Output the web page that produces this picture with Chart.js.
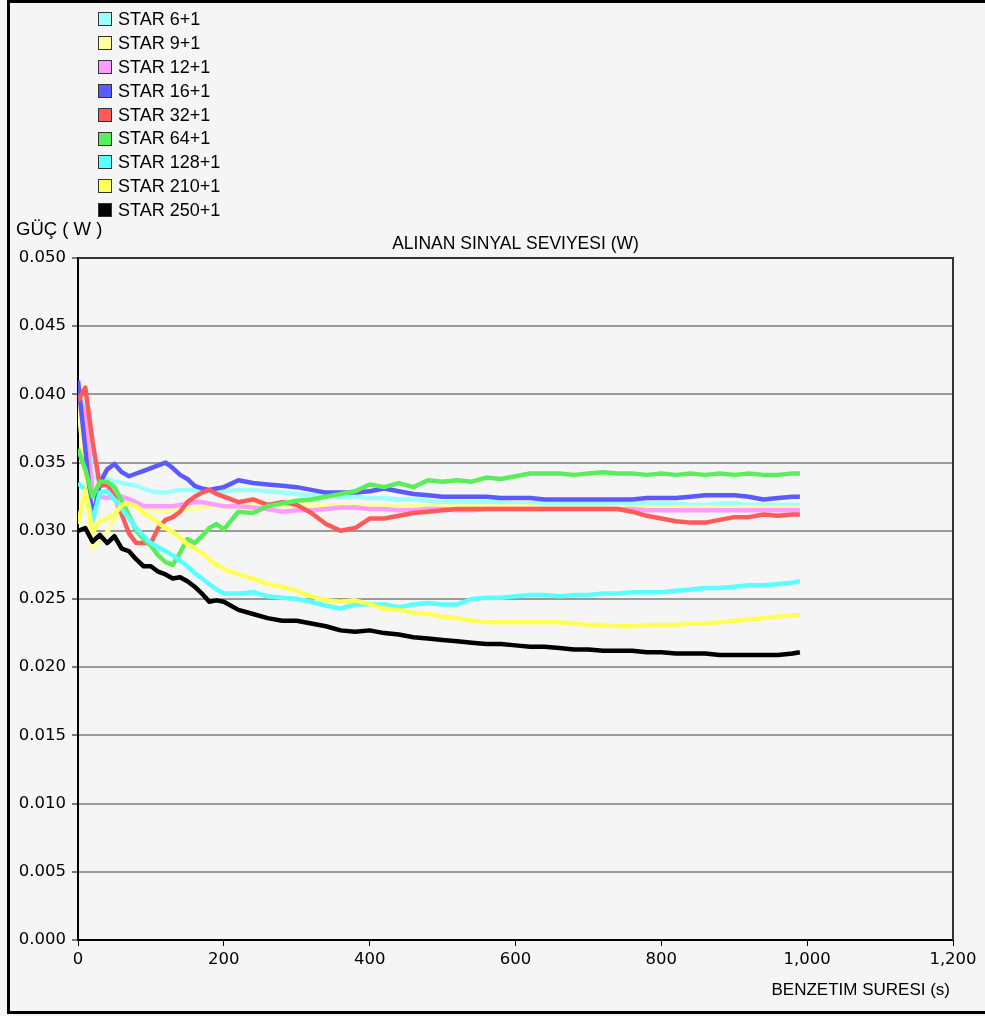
<!DOCTYPE html>
<html><head><meta charset="utf-8">
<script src="https://cdn.jsdelivr.net/npm/chart.js@4.4.1/dist/chart.umd.min.js"></script>
<style>html,body{margin:0;padding:0;background:#f5f5f5;}#wrap{width:985px;height:1016px;position:relative;}canvas{display:block;}</style>
</head><body><div id="wrap"><canvas id="c" width="985" height="1016"></canvas></div>
<script>
const times = [0,10,20,30,40,50,60,70,80,90,100,110,120,130,140,150,160,170,180,190,200,220,240,260,280,300,320,340,360,380,400,420,440,460,480,500,520,540,560,580,600,620,640,660,680,700,720,740,760,780,800,820,840,860,880,900,920,940,960,980,990];

const labels = ['STAR 6+1','STAR 9+1','STAR 12+1','STAR 16+1','STAR 32+1','STAR 64+1','STAR 128+1','STAR 210+1','STAR 250+1'];

const star6 = [0.0406,0.0393,0.0338,0.0341,0.0338,0.0336,0.0335,0.0334,0.0333,0.0331,0.0329,0.0328,0.0328,0.0329,0.0330,0.0330,0.0330,0.0329,0.0328,0.0329,0.0329,
0.0330,0.0330,0.0329,0.0328,0.0327,0.0326,0.0326,0.0325,0.0325,0.0324,0.0324,0.0323,0.0323,0.0322,0.0321,0.0321,0.0321,0.0321,0.0321,0.0320,0.0320,0.0320,0.0320,0.0320,0.0320,0.0320,0.0320,0.0320,0.0320,0.0320,0.0320,0.0319,0.0319,0.0320,0.0320,0.0319,0.0319,0.0319,0.0319,0.0319];

const star9 = [0.0395,0.0340,0.0287,0.0292,0.0299,0.0309,0.0317,0.0319,0.0318,0.0317,0.0316,0.0314,0.0314,0.0315,0.0315,0.0316,0.0316,0.0317,0.0318,0.0318,0.0317,
0.0318,0.0319,0.0319,0.0319,0.0319,0.0319,0.0318,0.0319,0.0319,0.0318,0.0318,0.0318,0.0318,0.0318,0.0318,0.0318,0.0318,0.0318,0.0318,0.0318,0.0318,0.0317,0.0317,0.0317,0.0317,0.0317,0.0317,0.0317,0.0317,0.0317,0.0317,0.0317,0.0317,0.0317,0.0317,0.0317,0.0317,0.0317,0.0317,0.0317];

const star12 = [0.0400,0.0385,0.0328,0.0325,0.0324,0.0325,0.0325,0.0323,0.0321,0.0318,0.0318,0.0318,0.0318,0.0318,0.0319,0.0320,0.0321,0.0321,0.0320,0.0319,0.0318,
0.0318,0.0317,0.0316,0.0314,0.0315,0.0315,0.0316,0.0317,0.0317,0.0316,0.0316,0.0315,0.0315,0.0316,0.0316,0.0315,0.0315,0.0316,0.0316,0.0316,0.0316,0.0316,0.0316,0.0316,0.0316,0.0316,0.0316,0.0316,0.0315,0.0315,0.0315,0.0315,0.0315,0.0315,0.0315,0.0315,0.0315,0.0315,0.0315,0.0315];

const star16 = [0.0410,0.0360,0.0308,0.0335,0.0345,0.0349,0.0343,0.0340,0.0342,0.0344,0.0346,0.0348,0.0350,0.0346,0.0341,0.0338,0.0333,0.0331,0.0330,0.0331,0.0332,
0.0337,0.0335,0.0334,0.0333,0.0332,0.0330,0.0328,0.0328,0.0328,0.0329,0.0331,0.0329,0.0327,0.0326,0.0325,0.0325,0.0325,0.0325,0.0324,0.0324,0.0324,0.0323,0.0323,0.0323,0.0323,0.0323,0.0323,0.0323,0.0324,0.0324,0.0324,0.0325,0.0326,0.0326,0.0326,0.0325,0.0323,0.0324,0.0325,0.0325];

const star32 = [0.0395,0.0405,0.0365,0.0333,0.0334,0.0325,0.0312,0.0298,0.0291,0.0291,0.0291,0.0302,0.0308,0.0310,0.0314,0.0321,0.0325,0.0328,0.0330,0.0327,0.0325,
0.0321,0.0323,0.0319,0.0321,0.0319,0.0313,0.0305,0.0300,0.0302,0.0309,0.0309,0.0311,0.0313,0.0314,0.0315,0.0316,0.0316,0.0316,0.0316,0.0316,0.0316,0.0316,0.0316,0.0316,0.0316,0.0316,0.0316,0.0314,0.0311,0.0309,0.0307,0.0306,0.0306,0.0308,0.0310,0.0310,0.0312,0.0311,0.0312,0.0312];

const star64 = [0.0360,0.0345,0.0325,0.0336,0.0336,0.0332,0.0322,0.0311,0.0300,0.0294,0.0289,0.0282,0.0277,0.0275,0.0284,0.0294,0.0291,0.0296,0.0302,0.0305,0.0301,
0.0314,0.0313,0.0318,0.0320,0.0322,0.0323,0.0325,0.0327,0.0329,0.0334,0.0332,0.0335,0.0332,0.0337,0.0336,0.0337,0.0336,0.0339,0.0338,0.0340,0.0342,0.0342,0.0342,0.0341,0.0342,0.0343,0.0342,0.0342,0.0341,0.0342,0.0341,0.0342,0.0341,0.0342,0.0341,0.0342,0.0341,0.0341,0.0342,0.0342];

const star128 = [0.0335,0.0330,0.0307,0.0328,0.0329,0.0323,0.0316,0.0309,0.0302,0.0296,0.0291,0.0288,0.0285,0.0282,0.0278,0.0274,0.0269,0.0265,0.0261,0.0257,0.0254,
0.0254,0.0255,0.0252,0.0251,0.0250,0.0248,0.0245,0.0243,0.0246,0.0246,0.0246,0.0244,0.0246,0.0247,0.0246,0.0246,0.0250,0.0251,0.0251,0.0252,0.0253,0.0253,0.0252,0.0253,0.0253,0.0254,0.0254,0.0255,0.0255,0.0255,0.0256,0.0257,0.0258,0.0258,0.0259,0.0260,0.0260,0.0261,0.0262,0.0263];

const star210 = [0.0305,0.0330,0.0299,0.0307,0.0309,0.0312,0.0319,0.0320,0.0318,0.0313,0.0310,0.0306,0.0302,0.0299,0.0295,0.0290,0.0287,0.0284,0.0279,0.0275,0.0272,
0.0268,0.0265,0.0261,0.0259,0.0256,0.0252,0.0249,0.0248,0.0249,0.0246,0.0243,0.0242,0.0240,0.0239,0.0237,0.0236,0.0234,0.0233,0.0233,0.0233,0.0233,0.0233,0.0233,0.0232,0.0231,0.0231,0.0230,0.0230,0.0231,0.0231,0.0231,0.0232,0.0232,0.0233,0.0234,0.0235,0.0236,0.0237,0.0238,0.0238];

const star250 = [0.0300,0.0302,0.0292,0.0297,0.0291,0.0296,0.0287,0.0285,0.0279,0.0274,0.0274,0.0270,0.0268,0.0265,0.0266,0.0263,0.0259,0.0254,0.0248,0.0249,0.0248,
0.0242,0.0239,0.0236,0.0234,0.0234,0.0232,0.0230,0.0227,0.0226,0.0227,0.0225,0.0224,0.0222,0.0221,0.0220,0.0219,0.0218,0.0217,0.0217,0.0216,0.0215,0.0215,0.0214,0.0213,0.0213,0.0212,0.0212,0.0212,0.0211,0.0211,0.0210,0.0210,0.0210,0.0209,0.0209,0.0209,0.0209,0.0209,0.0210,0.0211];

const lineColors = ['#9cffff','#ffff9c','#ff9cff','#5a5aff','#ff5a5a','#5aee5a','#5affff','#ffff5a','#000000'];
const xTicks = [0,200,400,600,800,1000,1200];
const yTicks = [0,0.005,0.010,0.015,0.020,0.025,0.030,0.035,0.040,0.045,0.050];

const series = [star6, star9, star12, star16, star32, star64, star128, star210, star250];

const FONT = "'Liberation Sans', Arial, Helvetica, sans-serif";
const TICKFONT = "'DejaVu Sans', Verdana, sans-serif";
Chart.defaults.font.family = FONT;
Chart.defaults.font.size = 17;
Chart.defaults.color = '#000';

const datasets = labels.map((lab, i) => ({
  label: lab,
  data: times.map((t, j) => ({x: t, y: series[i][j]})),
  borderColor: lineColors[i],
  backgroundColor: lineColors[i],
  borderWidth: 4.5,
  pointRadius: 0,
  pointHoverRadius: 0,
  tension: 0,
  fill: false,
  borderJoinStyle: 'round',
  order: labels.length - i
}));

const deco = {
  id: 'deco',
  beforeDraw(chart) {
    const c = chart.ctx;
    c.save();
    c.fillStyle = '#f5f5f5';
    c.fillRect(0, 0, chart.width, chart.height);
    c.restore();
  },
  afterDraw(chart) {
    const c = chart.ctx, a = chart.chartArea;
    c.save();
    c.strokeStyle = '#333';
    c.lineWidth = 2;
    c.beginPath();
    c.moveTo(a.left, a.top);
    c.lineTo(a.right, a.top);
    c.lineTo(a.right, a.bottom);
    c.stroke();
    c.strokeStyle = '#000';
    c.lineWidth = 3;
    c.beginPath();
    c.moveTo(985, 1.5); c.lineTo(8.5, 1.5); c.lineTo(8.5, 1012.5); c.lineTo(985, 1012.5);
    c.stroke();
    c.font = '18px ' + FONT;
    c.textBaseline = 'middle';
    c.textAlign = 'left';
    chart.data.datasets.forEach((ds, i) => {
      const cy = 19 + i * 23.9;
      c.fillStyle = ds.borderColor;
      c.fillRect(98.5, Math.round(cy) - 6.5, 13, 13);
      c.strokeStyle = '#333';
      c.lineWidth = 1;
      c.strokeRect(98.5, Math.round(cy) - 6.5, 13, 13);
      c.fillStyle = '#000';
      c.fillText(ds.label, 118, cy + 1);
    });
    c.font = '18.5px ' + FONT;
    c.fillText('GÜÇ ( W )', 16, 230);
    c.textAlign = 'center';
    c.font = '17.5px ' + FONT;
    c.fillText('ALINAN SINYAL SEVIYESI (W)', (a.left + a.right) / 2, 244);
    c.textAlign = 'right';
    c.font = '17px ' + FONT;
    c.fillText('BENZETIM SURESI (s)', a.right - 3, 990);
    c.restore();
  }
};

new Chart(document.getElementById('c'), {
  type: 'line',
  data: {datasets},
  plugins: [deco],
  options: {
    responsive: false,
    animation: false,
    devicePixelRatio: 1,
    events: [],
    layout: {padding: {top: 258, left: 0, right: 32, bottom: 0}},
    plugins: {legend: {display: false}, tooltip: {enabled: false}, title: {display: false}},
    scales: {
      x: {
        type: 'linear', min: 0, max: 1200,
        afterBuildTicks: s => { s.ticks = xTicks.map(v => ({value: v})); },
        ticks: {padding: 4, maxRotation: 0, autoSkip: false, font: {size: 16.5, family: TICKFONT},
          callback: v => v.toLocaleString('en-US')},
        grid: {drawOnChartArea: false, drawTicks: true, tickLength: 6, tickColor: '#000', tickWidth: 1},
        border: {display: true, color: '#000', width: 2},
        afterFit: s => { s.height = 76; }
      },
      y: {
        type: 'linear', min: 0, max: 0.05,
        afterBuildTicks: s => { s.ticks = yTicks.map(v => ({value: v})); },
        ticks: {padding: 6, font: {size: 16.5, family: TICKFONT}, callback: v => Number(v).toFixed(3)},
        grid: {
          color: ctx => (ctx.tick && ctx.tick.value > 0.0499) ? '#444' : '#9a9a9a',
          lineWidth: 2, drawTicks: true, tickLength: 6, tickColor: '#000', tickWidth: 1
        },
        border: {display: true, color: '#000', width: 2},
        afterFit: s => { s.width = 78; }
      }
    }
  }
});
</script></body></html>
